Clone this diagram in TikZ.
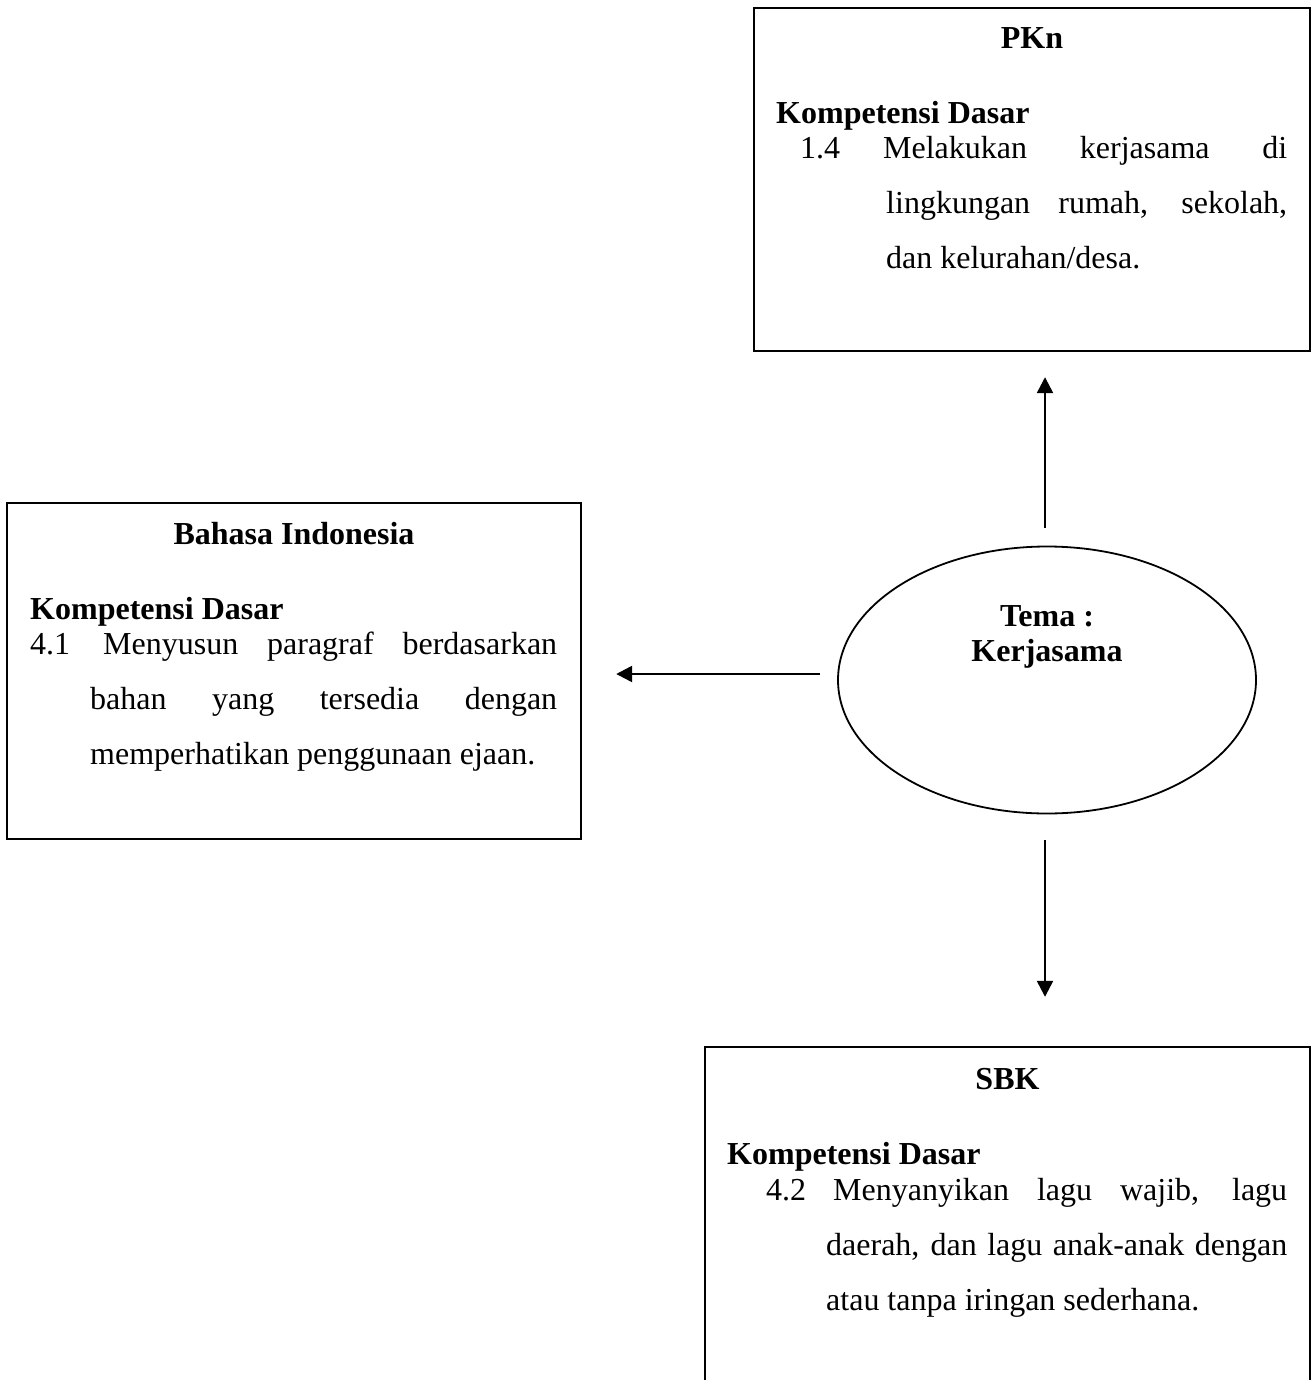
\documentclass[tikz,border=0pt]{standalone}
\usepackage{fontspec}
\setmainfont{Liberation Serif}
\usetikzlibrary{shapes.geometric,arrows.meta}
\newcommand{\kdfont}{\fontsize{32}{55}\selectfont}
\newcommand{\kditem}[5]{\parbox[t]{#1}{\kdfont\noindent\hangindent=#2\hangafter=1\makebox[#3][l]{#4}#5}}
\begin{document}
\begin{tikzpicture}[x=1pt,y=-1pt,
  box/.style={draw=none,rectangle,inner sep=0pt},
  boxline/.style={line width=2pt},
  tit/.style={inner sep=0pt,anchor=base,font=\kdfont\bfseries},
  hd/.style={inner sep=0pt,anchor=base west,font=\kdfont\bfseries},
  para/.style={inner sep=0pt,anchor=base west},
  arr/.style={line width=2.4pt,-{Triangle[length=16pt,width=16pt]}},
  ell/.style={draw,ellipse,line width=1.8pt,minimum width=418pt,minimum height=267pt,inner sep=0pt}
]
\useasboundingbox (0,0) rectangle (1311,1380);
\fill[white] (0,0) rectangle (1311,1380);

% PKn box
\node[box,minimum width=556pt,minimum height=343pt] (pkn) at (1032,179.5) {};
\draw[boxline] (pkn.south west) rectangle (pkn.north east);
\node[tit] (pknt) at (1032,49) {PKn};
\node[hd] (pknh) at (776,124) {Kompetensi Dasar};
\node[para] (pknp) at (800,159) {\kditem{487pt}{86pt}{83pt}{1.4}{Melakukan kerjasama di\linebreak lingkungan rumah, sekolah,\linebreak dan kelurahan/desa.}};

% Bahasa Indonesia box
\node[box,minimum width=574pt,minimum height=336pt] (bi) at (294,671) {};
\draw[boxline] (bi.south west) rectangle (bi.north east);
\node[tit] (bit) at (294,544) {Bahasa Indonesia};
\node[hd] (bih) at (30,619) {Kompetensi Dasar};
\node[para] (bip) at (30,654) {\kditem{527pt}{60pt}{73pt}{4.1}{Menyusun paragraf berdasarkan\linebreak bahan yang tersedia dengan\linebreak memperhatikan penggunaan ejaan.}};

% SBK box (cut by the page bottom)
\node[box,minimum width=605pt,minimum height=343pt] (sbk) at (1007.5,1218.5) {};
\draw[boxline] (sbk.south west) -- (sbk.north west) -- (sbk.north east) -- (sbk.south east);
\node[tit] (sbkt) at (1007.5,1089) {SBK};
\node[hd] (sbkh) at (727,1164) {Kompetensi Dasar};
\node[para] (sbkp) at (766,1200) {\kditem{521pt}{60pt}{67pt}{4.2}{Menyanyikan lagu wajib, lagu\linebreak daerah, dan lagu anak-anak dengan\linebreak atau tanpa iringan sederhana.}};

% Theme ellipse
\node[ell] (tema) at (1047,680) {};
\node[tit] (tema1) at (1047,626) {Tema :};
\node[tit] (tema2) at (1047,661) {Kerjasama};

% Arrows
\draw[arr,shorten <=18pt,shorten >=26pt] (tema.north -| 1045,0) -- (pkn.south -| 1045,0);
\draw[arr,shorten <=17pt,shorten >=35pt] (tema.west |- 0,674) -- (bi.east |- 0,674);
\draw[arr,shorten <=26pt,shorten >=50pt] (tema.south -| 1045,0) -- (sbk.north -| 1045,0);
\end{tikzpicture}
\end{document}
